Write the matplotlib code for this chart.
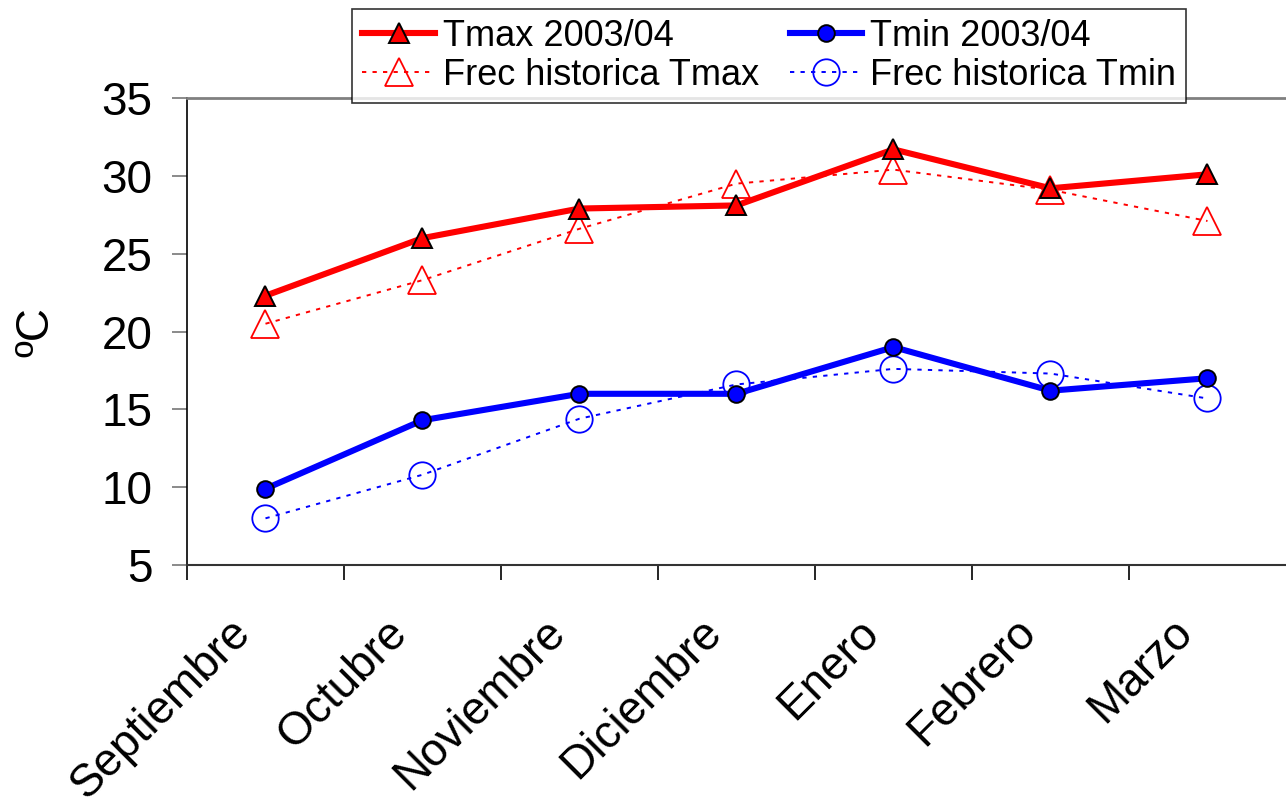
#!/usr/bin/env python3
"""
Monthly max/min temperatures for 2003/04 against the historical series.
"""

import matplotlib

matplotlib.use("Agg")
import matplotlib.pyplot as plt
from matplotlib import transforms

MONTHS = ["Septiembre", "Octubre", "Noviembre", "Diciembre",
          "Enero", "Febrero", "Marzo"]
TMAX_2003 = [22.3, 26.0, 27.9, 28.1, 31.7, 29.2, 30.1]
TMIN_2003 = [9.9, 14.3, 16.0, 16.0, 19.0, 16.2, 17.0]
TMAX_HIST = [20.5, 23.3, 26.6, 29.5, 30.4, 29.1, 27.1]
TMIN_HIST = [8.0, 10.8, 14.4, 16.6, 17.6, 17.3, 15.7]
Y_TICKS = [5, 10, 15, 20, 25, 30, 35]

FIG_SIZE = (12.86, 8.08)
DOTS = (0, (2.2, 3.2))

plt.rcParams["font.family"] = ["Liberation Sans", "DejaVu Sans"]


def main():
    """
    Draw the chart and write it to out.png.
    """
    fig = plt.figure(figsize=FIG_SIZE, dpi=100)
    axes = fig.add_axes([0.1454, 0.3007, 0.8546, 0.5780])
    pos = list(range(len(MONTHS)))

    # historical series underneath
    axes.plot(pos, TMAX_HIST, color="red", lw=1.4, ls=DOTS,
              marker="^", ms=20, mfc="none", mec="red", mew=1.3,
              label="Frec historica Tmax", zorder=2)
    axes.plot(pos, TMIN_HIST, color="blue", lw=1.4, ls=DOTS,
              marker="o", ms=19, mfc="none", mec="blue", mew=1.3,
              label="Frec historica Tmin", zorder=2)
    axes.plot(pos, TMAX_2003, color="red", lw=4.4,
              marker="^", ms=14.5, mfc="red", mec="black", mew=1.4,
              label="Tmax 2003/04", zorder=3)
    axes.plot(pos, TMIN_2003, color="blue", lw=4.4,
              marker="o", ms=12, mfc="blue", mec="black", mew=1.4,
              label="Tmin 2003/04", zorder=3)

    axes.set_xlim(-0.5, len(MONTHS) - 0.5)
    axes.set_ylim(5, 35)
    axes.set_yticks(Y_TICKS)
    axes.set_xticks([p - 0.5 for p in pos])
    axes.set_xticklabels([])
    axes.tick_params(axis="x", length=11, width=1.2,
                     color="black", direction="out")
    axes.tick_params(axis="y", length=11, width=1.2, color="#777777",
                     labelsize=33, pad=14)

    # month names, rotated and hung below the axis
    shift = transforms.ScaledTranslation(-0.37, -0.45, fig.dpi_scale_trans)
    for p, month in zip(pos, MONTHS):
        axes.text(p, 0, month, transform=axes.get_xaxis_transform() + shift,
                  rotation=45, ha="right", va="top", rotation_mode="anchor",
                  fontsize=33)

    axes.spines["right"].set_visible(False)
    axes.spines["top"].set_color("#808080")
    axes.spines["top"].set_linewidth(2)
    axes.spines["left"].set_color("black")
    axes.spines["left"].set_linewidth(1.2)
    axes.spines["bottom"].set_color("#333333")
    axes.spines["bottom"].set_linewidth(1.5)

    axes.set_ylabel("ºC", fontsize=33, labelpad=31)

    handles, labels = axes.get_legend_handles_labels()
    order = [2, 0, 3, 1]
    leg = fig.legend([handles[i] for i in order], [labels[i] for i in order],
                     ncol=2, loc="upper center", bbox_to_anchor=(0.598, 0.989),
                     fontsize=26, frameon=True, fancybox=False,
                     handlelength=2.0, handletextpad=0.22, columnspacing=0.85,
                     labelspacing=0.1, borderpad=0.28, borderaxespad=0)
    leg.get_frame().set_edgecolor("black")
    leg.get_frame().set_linewidth(1.2)

    fig.savefig("out.png", dpi=100)


if __name__ == "__main__":
    main()
